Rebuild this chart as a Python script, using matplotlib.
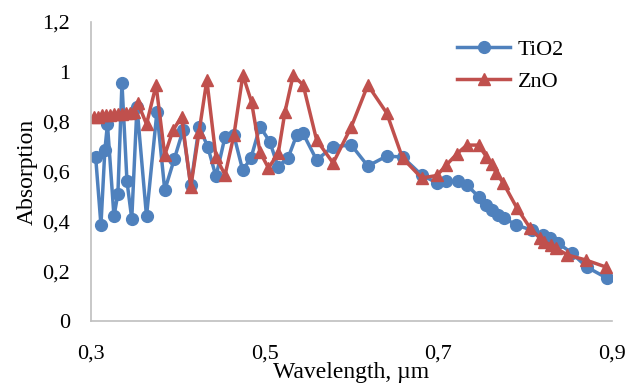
import matplotlib.pyplot as plt
from matplotlib.ticker import FuncFormatter

# TiO2 spectrum (wavelength in um, absorption)
tio2_wl = [0.3054, 0.3115, 0.316, 0.319, 0.3265, 0.331, 0.3357, 0.3415, 0.347, 0.353,
           0.364, 0.376, 0.385, 0.396, 0.406, 0.415, 0.4245, 0.4345, 0.444, 0.4545,
           0.4647, 0.4748, 0.4843, 0.4947, 0.506, 0.5154, 0.527, 0.537, 0.5442, 0.56,
           0.5788, 0.60, 0.619, 0.6407, 0.659, 0.681, 0.6986, 0.709, 0.7228, 0.733,
           0.747, 0.755, 0.762, 0.769, 0.776, 0.790, 0.8077, 0.8207, 0.829, 0.838,
           0.854, 0.871, 0.894]
tio2_abs = [0.658, 0.385, 0.686, 0.79, 0.42, 0.51, 0.955, 0.56, 0.41, 0.86,
            0.42, 0.84, 0.525, 0.65, 0.765, 0.545, 0.78, 0.70, 0.58, 0.74,
            0.745, 0.605, 0.654, 0.78, 0.72, 0.62, 0.654, 0.746, 0.754, 0.646,
            0.70, 0.706, 0.622, 0.662, 0.658, 0.586, 0.554, 0.56, 0.56, 0.546,
            0.498, 0.466, 0.445, 0.425, 0.413, 0.385, 0.365, 0.345, 0.333, 0.313,
            0.273, 0.217, 0.173]

# ZnO spectrum
zno_wl = [0.304, 0.3085, 0.313, 0.3175, 0.322, 0.3265, 0.331, 0.3355, 0.340, 0.3445,
          0.349, 0.354, 0.364, 0.375, 0.385, 0.3945, 0.4045, 0.415, 0.4245, 0.4335,
          0.444, 0.4545, 0.4647, 0.475, 0.485, 0.4947, 0.5045, 0.5158, 0.5235, 0.533,
          0.5445, 0.56, 0.579, 0.60, 0.619, 0.6407, 0.659, 0.681, 0.6985, 0.7095,
          0.7213, 0.733, 0.7465, 0.7555, 0.7615, 0.767, 0.775, 0.7905, 0.806, 0.817,
          0.8225, 0.830, 0.8355, 0.849, 0.870, 0.893]
zno_abs = [0.82, 0.82, 0.825, 0.825, 0.825, 0.83, 0.83, 0.83, 0.835, 0.835,
           0.84, 0.875, 0.79, 0.947, 0.666, 0.766, 0.82, 0.538, 0.758, 0.967,
           0.658, 0.586, 0.746, 0.987, 0.879, 0.678, 0.614, 0.674, 0.839, 0.987,
           0.947, 0.726, 0.634, 0.78, 0.947, 0.835, 0.654, 0.574, 0.584, 0.626,
           0.67, 0.706, 0.706, 0.66, 0.63, 0.594, 0.554, 0.455, 0.373, 0.333,
           0.317, 0.305, 0.293, 0.265, 0.245, 0.217]

plt.rcParams['font.family'] = ['Liberation Serif', 'DejaVu Serif']

fig = plt.figure(figsize=(6.3, 3.89), dpi=100)
ax = fig.add_axes([0.1444, 0.1748, 0.8266, 0.7686])

ax.plot(tio2_wl, tio2_abs, color='#4F81BD', lw=2.5, marker='o', ms=8.5, label='TiO2')
ax.plot(zno_wl, zno_abs, color='#C0504D', lw=2.5, marker='^', ms=9, label='ZnO')

ax.set_xlim(0.3, 0.9)
ax.set_ylim(0, 1.2)
ax.set_xticks([0.3, 0.5, 0.7, 0.9])
ax.set_yticks([0, 0.2, 0.4, 0.6, 0.8, 1.0, 1.2])


def comma(v, pos):
    s = ('%.1f' % v).rstrip('0').rstrip('.')
    return s.replace('.', ',')


ax.xaxis.set_major_formatter(FuncFormatter(comma))
ax.yaxis.set_major_formatter(FuncFormatter(comma))
ax.tick_params(length=0, labelsize=16, colors='#000000')
ax.tick_params(axis='x', pad=17)
ax.tick_params(axis='y', pad=15)

for side in ['top', 'right']:
    ax.spines[side].set_visible(False)
for side in ['left', 'bottom']:
    ax.spines[side].set_color('#BFBFBF')
    ax.spines[side].set_linewidth(1.2)

ax.set_xlabel('Wavelength, µm', fontsize=17, labelpad=-1)
ax.set_ylabel('Absorption', fontsize=17, labelpad=3)

ax.legend(loc='upper left', bbox_to_anchor=(0.712, 0.922), bbox_transform=fig.transFigure,
          frameon=False, fontsize=16, handlelength=2.35, handletextpad=0.35,
          labelspacing=0.53, borderaxespad=0)

fig.savefig('out.png', dpi=100)
